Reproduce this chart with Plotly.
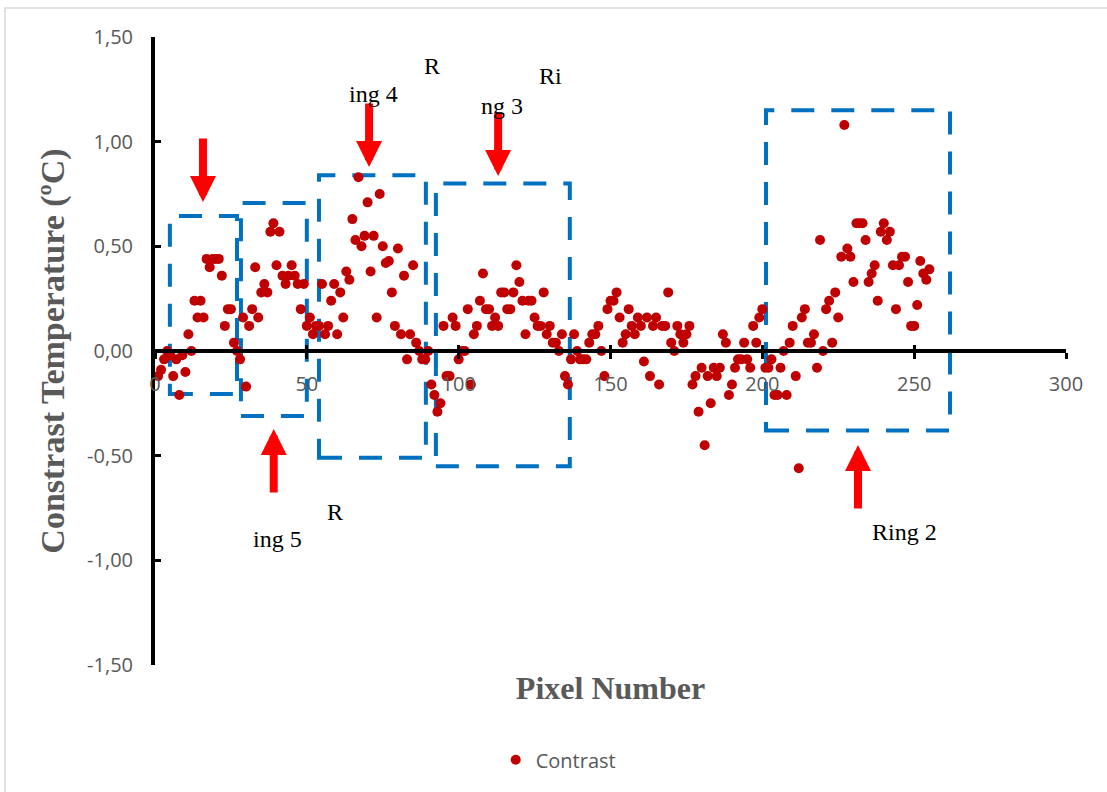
import plotly.graph_objects as go

# ---------------- data ----------------
pixel = list(range(1, 256))
contrast = [
    -0.12, -0.09, -0.04, 0.00, -0.02, -0.12, -0.04, -0.21, -0.02, -0.10,
    0.08, 0.00, 0.24, 0.16, 0.24, 0.16, 0.44, 0.40, 0.44, 0.44,
    0.44, 0.36, 0.12, 0.20, 0.20, 0.04, 0.00, -0.04, 0.16, -0.17,
    0.12, 0.20, 0.40, 0.16, 0.28, 0.32, 0.28, 0.57, 0.61, 0.41,
    0.57, 0.36, 0.32, 0.36, 0.41, 0.36, 0.32, 0.20, 0.32, 0.12,
    0.16, 0.08, 0.12, 0.12, 0.32, 0.08, 0.12, 0.24, 0.32, 0.08,
    0.28, 0.16, 0.38, 0.34, 0.63, 0.53, 0.83, 0.50, 0.55, 0.71,
    0.38, 0.55, 0.16, 0.75, 0.50, 0.42, 0.43, 0.28, 0.12, 0.49,
    0.08, 0.36, -0.04, 0.08, 0.41, 0.04, 0.00, -0.04, -0.04, 0.00,
    -0.16, -0.21, -0.29, -0.25, 0.12, -0.12, -0.12, 0.16, 0.12, -0.04,
    0.00, 0.00, 0.20, -0.16, 0.08, 0.12, 0.24, 0.37, 0.20, 0.20,
    0.12, 0.16, 0.12, 0.28, 0.28, 0.20, 0.20, 0.28, 0.41, 0.33,
    0.24, 0.08, 0.24, 0.24, 0.16, 0.12, 0.12, 0.28, 0.08, 0.12,
    0.04, 0.04, 0.00, 0.08, -0.12, -0.16, -0.04, 0.08, 0.00, -0.04,
    -0.04, -0.04, 0.04, 0.08, 0.08, 0.12, 0.00, -0.12, 0.20, 0.24,
    0.24, 0.28, 0.16, 0.04, 0.08, 0.20, 0.12, 0.08, 0.16, 0.12,
    -0.05, 0.16, -0.12, 0.12, 0.16, -0.16, 0.12, 0.12, 0.28, 0.04,
    0.00, 0.12, 0.08, 0.04, 0.08, 0.12, -0.16, -0.12, -0.29, -0.08,
    -0.45, -0.12, -0.25, -0.08, -0.12, -0.08, 0.08, 0.04, -0.21, -0.16,
    -0.08, -0.04, -0.04, 0.04, -0.04, -0.08, 0.12, 0.04, 0.16, 0.20,
    -0.08, -0.08, -0.04, -0.21, -0.21, -0.08, 0.00, -0.21, 0.04, 0.12,
    -0.12, -0.56, 0.16, 0.20, 0.04, 0.04, 0.08, -0.08, 0.53, 0.00,
    0.20, 0.24, 0.04, 0.28, 0.16, 0.45, 1.08, 0.49, 0.45, 0.33,
    0.61, 0.61, 0.61, 0.53, 0.33, 0.37, 0.41, 0.24, 0.57, 0.61,
    0.53, 0.57, 0.41, 0.20, 0.41, 0.45, 0.45, 0.33, 0.12, 0.12,
    0.22, 0.43, 0.37, 0.34, 0.39,
]

x_tick_vals = [0, 50, 100, 150, 200, 250, 300]
x_tick_text = ["0", "50", "100", "150", "200", "250", "300"]
y_tick_vals = [-1.5, -1.0, -0.5, 0.0, 0.5, 1.0, 1.5]
y_tick_text = ["-1,50", "-1,00", "-0,50", "0,00", "0,50", "1,00", "1,50"]

# ring regions (dashed boxes)
box_x0 = [4.9, 28.3, 54.0, 92.5, 201.2]
box_x1 = [27.0, 50.0, 89.2, 136.6, 261.8]
box_y0 = [-0.205, -0.31, -0.51, -0.55, -0.38]
box_y1 = [0.645, 0.707, 0.84, 0.80, 1.15]

# red arrows (tip position, direction: -1 tail above, +1 tail below)
arrow_x = [15.8, 39.1, 70.5, 113.0, 231.5]
arrow_y = [0.712, -0.373, 0.879, 0.836, -0.449]
arrow_dir = [-1, 1, -1, -1, 1]

# ring labels (split as in the original)
label_text = ["R", "ing 6", "R", "ing 4", "Ri", "ng 3", "R", "ing 5", "Ring 2"]
label_x = [-9.2, -28.6, 91.2, 71.8, 130.4, 114.3, 59.3, 40.2, 246.9]
label_y = [1.108, 0.979, 1.362, 1.228, 1.314, 1.170, -0.769, -0.898, -0.865]

# ---------------- style ----------------
GREY = "#595959"
SANS = "Open Sans, Liberation Sans, sans-serif"
SERIF = "Liberation Serif, Times New Roman, serif"

fig = go.Figure()
fig.add_trace(go.Scatter(
    x=pixel, y=contrast, mode="markers", name="Contrast",
    marker=dict(color="#C00000", size=10),
))
# empty helper traces so that the crossing x axis (at y = 0) is drawn
for ax_name in ["x2", "x3"]:
    fig.add_trace(go.Scatter(x=[], y=[], xaxis=ax_name, yaxis="y",
                             showlegend=False, hoverinfo="skip"))

shapes = []
for x0, x1, y0, y1 in zip(box_x0, box_x1, box_y0, box_y1):
    shapes.append(dict(type="rect", xref="x", yref="y", x0=x0, x1=x1, y0=y0, y1=y1,
                       line=dict(color="#0070C0", width=4, dash="23px,17px"),
                       layer="below"))
# outer chart border
shapes.append(dict(type="rect", xref="paper", yref="paper",
                   x0=-0.1647, x1=1.2, y0=-0.3, y1=1.046,
                   line=dict(color="#D9D9D9", width=1.5)))

annotations = []
for ax_, ay_, d in zip(arrow_x, arrow_y, arrow_dir):
    annotations.append(dict(x=ax_, y=ay_, xref="x", yref="y", text="",
                            showarrow=True, ax=0, ay=65 * d,
                            arrowcolor="#FF0000", arrowwidth=8, arrowhead=2,
                            arrowsize=0.65, standoff=0))
for t, lx, ly in zip(label_text, label_x, label_y):
    annotations.append(dict(x=lx, y=ly, xref="x", yref="y", text=t, showarrow=False,
                            font=dict(family=SERIF, size=24, color="black")))

tick_x = dict(range=[0, 300], overlaying="x", anchor="free", position=0.5, side="bottom",
              showgrid=False, zeroline=False, ticklen=6, tickwidth=3, tickcolor="black",
              tickvals=x_tick_vals)

fig.update_layout(
    width=1107, height=792,
    margin=dict(l=155, r=41, t=37, b=127),
    plot_bgcolor="white", paper_bgcolor="white",
    showlegend=True,
    legend=dict(orientation="h", x=0.374, xanchor="left", y=-0.151, yanchor="middle",
                font=dict(family=SANS, size=20, color=GREY)),
    xaxis=dict(range=[0, 300], showline=False, showgrid=False, zeroline=False,
               ticks="", showticklabels=False,
               title=dict(text="Pixel Number", standoff=11,
                          font=dict(family=SERIF, size=32, color=GREY, weight="bold"))),
    xaxis2=dict(tick_x, showline=True, linecolor="black", linewidth=4, ticks="outside",
                ticktext=x_tick_text, ticklabelstandoff=8,
                tickfont=dict(family=SANS, size=20, color=GREY)),
    xaxis3=dict(tick_x, showline=False, ticks="inside", showticklabels=False),
    yaxis=dict(range=[-1.5, 1.5], showline=True, linecolor="black", linewidth=4,
               showgrid=False, zeroline=False,
               ticks="inside", ticklen=6, tickwidth=3, tickcolor="black",
               tickvals=y_tick_vals, ticktext=y_tick_text, ticklabelstandoff=14,
               tickfont=dict(family=SANS, size=20, color=GREY),
               title=dict(text="Constrast Temperature (ºC)", standoff=13,
                          font=dict(family=SERIF, size=34, color=GREY, weight="bold"))),
    shapes=shapes,
    annotations=annotations,
)

fig.write_html("out.html", config={"displayModeBar": False},
               post_script="document.body.style.margin='0';")
